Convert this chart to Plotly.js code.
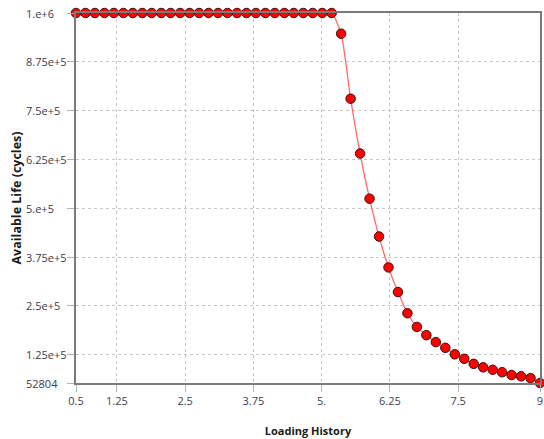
<!DOCTYPE html>
<html>
<head>
<meta charset="utf-8">
<script src="https://cdn.plot.ly/plotly-3.0.1.min.js"></script>
<style>html,body{margin:0;padding:0;background:#fff;}#chart{width:544px;height:439px;}</style>
</head>
<body>
<div id="chart"></div>
<script>
const loadingHistory = [0.5, 0.6735, 0.8469, 1.0204, 1.1939, 1.3673, 1.5408, 1.7143, 1.8878, 2.0612,
  2.2347, 2.4082, 2.5816, 2.7551, 2.9286, 3.1020, 3.2755, 3.4490, 3.6224, 3.7959,
  3.9694, 4.1429, 4.3163, 4.4898, 4.6633, 4.8367, 5.0102, 5.1837, 5.3571, 5.5306,
  5.7041, 5.8776, 6.0510, 6.2245, 6.3980, 6.5714, 6.7449, 6.9184, 7.0918, 7.2653,
  7.4388, 7.6122, 7.7857, 7.9592, 8.1327, 8.3061, 8.4796, 8.6531, 8.8265, 9.0];
const availableLife = [1e6, 1e6, 1e6, 1e6, 1e6, 1e6, 1e6, 1e6, 1e6, 1e6,
  1e6, 1e6, 1e6, 1e6, 1e6, 1e6, 1e6, 1e6, 1e6, 1e6,
  1e6, 1e6, 1e6, 1e6, 1e6, 1e6, 1e6, 1e6, 947000, 780600,
  640300, 524700, 427800, 348700, 285700, 231400, 196400, 175300, 157400, 142900,
  126300, 114800, 101800, 92900, 86700, 80400, 73200, 69900, 65100, 52804];
const xTickVals = [0.5, 1.25, 2.5, 3.75, 5, 6.25, 7.5, 9];
const xTickText = ['0.5', '1.25', '2.5', '3.75', '5.', '6.25', '7.5', '9'];
const yTickVals = [52804, 125000, 250000, 375000, 500000, 625000, 750000, 875000, 1000000];
const yTickText = ['52804', '1.25e+5', '2.5e+5', '3.75e+5', '5.e+5', '6.25e+5', '7.5e+5', '8.75e+5', '1.e+6'];

const font = "'Open Sans', 'Noto Sans', sans-serif";
const labelColor = '#3c3c4c';
const trace = {
  x: loadingHistory, y: availableLife, type: 'scatter', mode: 'lines+markers',
  line: {color: '#ff6b6b', width: 1.3, shape: 'spline', smoothing: 0.6},
  marker: {color: '#ff0000', size: 9.5, line: {color: '#3a1010', width: 1}},
  cliponaxis: false, hoverinfo: 'none'
};
// left-aligned y tick labels, as in the reference
const plotLeft = 76, plotWidth = 544 - 76 - 4;
const yLabels = yTickVals.map((v, i) => ({
  xref: 'paper', yref: 'y', x: (24 - plotLeft) / plotWidth, y: v,
  xanchor: 'left', yanchor: 'middle', showarrow: false, text: yTickText[i],
  font: {family: font, size: 11, color: labelColor}
}));
const layout = {
  width: 544, height: 439,
  margin: {l: plotLeft, r: 4, t: 13, b: 56},
  paper_bgcolor: '#ffffff', plot_bgcolor: '#ffffff',
  showlegend: false,
  font: {family: font, size: 11, color: labelColor},
  annotations: yLabels,
  xaxis: {
    range: [0.5, 9], tickmode: 'array', tickvals: xTickVals, ticktext: xTickText,
    showgrid: true, gridcolor: '#c8c8c8', griddash: '3px,3px', gridwidth: 1,
    zeroline: false, showline: true, linecolor: '#7a7a7a', linewidth: 2, mirror: true,
    ticks: 'outside', ticklen: 7, tickcolor: '#b0b0b0', tickwidth: 1,
    tickfont: {family: font, size: 11, color: labelColor},
    title: {text: 'Loading History', font: {family: font, size: 11, color: '#1a1a1a', weight: 'bold'}, standoff: 20}
  },
  yaxis: {
    range: [52804, 1000000], tickmode: 'array', tickvals: yTickVals,
    showticklabels: false,
    showgrid: true, gridcolor: '#c8c8c8', griddash: '3px,3px', gridwidth: 1,
    zeroline: false, showline: true, linecolor: '#7a7a7a', linewidth: 2, mirror: true,
    ticks: 'outside', ticklen: 7, tickcolor: '#b0b0b0', tickwidth: 1,
    title: {text: 'Available Life (cycles)', font: {family: font, size: 12.5, color: '#1a1a1a', weight: 'bold'}, standoff: 43}
  }
};
Plotly.newPlot('chart', [trace], layout, {staticPlot: true, displayModeBar: false});
</script>
</body>
</html>
